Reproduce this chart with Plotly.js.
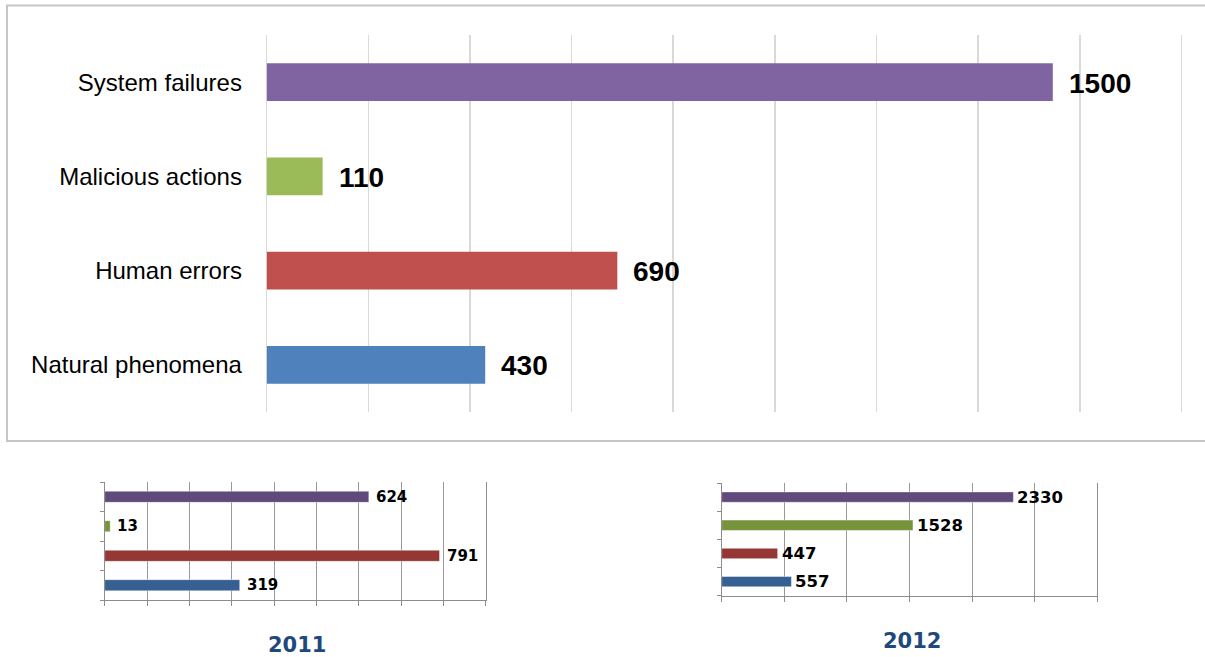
<!DOCTYPE html>
<html>
<head>
<meta charset="utf-8">
<script src="https://cdn.plot.ly/plotly-3.0.1.min.js"></script>
<style>
html,body{margin:0;padding:0;background:#fff;}
#chart{width:1205px;height:657px;}
</style>
</head>
<body>
<div id="chart"></div>
<script>
// Categories (bottom to top)
const categories = ["Natural phenomena", "Human errors", "Malicious actions", "System failures"];
// Main chart: bar lengths as drawn, and the printed data labels
const totalValues = [430, 690, 110, 1547];
const totalLabels = ["430", "690", "110", "1500"];
// 2011 panel
const values2011 = [319, 791, 13, 624];
// 2012 panel
const values2012 = [557, 447, 1528, 2330];
const panelTitles = ["2011", "2012"];

const mainColors = ["#4f81bd", "#c0504d", "#9bbb59", "#8064a2"];
const darkColors = ["#376092", "#953735", "#77933c", "#604a7b"];

const W = 1205, H = 657;
const px = x => x / W;
const py = y => 1 - y / H;

const traces = [
  {type: "bar", orientation: "h", y: categories, x: totalValues, xaxis: "x", yaxis: "y",
   width: 0.4, marker: {color: mainColors}, hoverinfo: "skip"},
  {type: "bar", orientation: "h", y: categories, x: values2011, xaxis: "x2", yaxis: "y2",
   width: 0.38, marker: {color: darkColors, line: {color: "rgba(255,255,255,0.45)", width: 1}}, hoverinfo: "skip"},
  {type: "bar", orientation: "h", y: categories, x: values2012, xaxis: "x3", yaxis: "y3",
   width: 0.37, marker: {color: darkColors, line: {color: "rgba(255,255,255,0.45)", width: 1}}, hoverinfo: "skip"}
];

const annotations = [];
categories.forEach((c, i) => {
  annotations.push({xref: "x", yref: "y", x: totalValues[i], y: c, text: totalLabels[i],
    showarrow: false, xanchor: "left", yanchor: "middle", xshift: 14, yshift: -1,
    font: {family: "Liberation Sans", size: 28, color: "#000", weight: 700}});
  annotations.push({xref: "x2", yref: "y2", x: values2011[i], y: c, text: String(values2011[i]),
    showarrow: false, xanchor: "left", yanchor: "middle", xshift: 5,
    font: {family: "DejaVu Sans", size: 15, color: "#000", weight: 700}});
  annotations.push({xref: "x3", yref: "y3", x: values2012[i], y: c, text: String(values2012[i]),
    showarrow: false, xanchor: "left", yanchor: "middle", xshift: 2,
    font: {family: "DejaVu Sans", size: 16.5, color: "#000", weight: 700}});
});
annotations.push({xref: "paper", yref: "paper", x: px(297), y: py(645), text: panelTitles[0],
  showarrow: false, xanchor: "center", yanchor: "middle",
  font: {family: "DejaVu Sans", size: 21, color: "#1f497d", weight: 700}});
annotations.push({xref: "paper", yref: "paper", x: px(912), y: py(641), text: panelTitles[1],
  showarrow: false, xanchor: "center", yanchor: "middle",
  font: {family: "DejaVu Sans", size: 21, color: "#1f497d", weight: 700}});

const smallX = (dom, range, dtick, anchor) => ({
  domain: dom, range: range, dtick: dtick, tick0: 0, anchor: anchor,
  showgrid: true, gridcolor: "#999999", gridwidth: 1,
  showline: true, linecolor: "#8c8c8c", linewidth: 1,
  ticks: "outside", ticklen: 5, tickcolor: "#8c8c8c", tickwidth: 1,
  showticklabels: false, zeroline: false, fixedrange: true
});
const smallY = (dom, anchor) => ({
  domain: dom, anchor: anchor, type: "category", range: [-0.5, 3.5],
  showline: true, mirror: true, linecolor: "#8c8c8c", linewidth: 1,
  ticks: "outside", tickson: "boundaries", ticklen: 4, tickcolor: "#8c8c8c",
  showticklabels: false, showgrid: false, zeroline: false, fixedrange: true
});

const layout = {
  width: W, height: H,
  margin: {l: 0, r: 0, t: 0, b: 0, pad: 0},
  paper_bgcolor: "#fff", plot_bgcolor: "rgba(0,0,0,0)",
  showlegend: false,
  xaxis: {domain: [px(266.7), px(1182.4)], range: [0, 1802], dtick: 200, tick0: 0, anchor: "y",
    showgrid: true, gridcolor: "#d9d9d9", gridwidth: 1.5,
    zeroline: true, zerolinecolor: "#d9d9d9", zerolinewidth: 1.5,
    showticklabels: false, showline: false, ticks: "", fixedrange: true},
  yaxis: {domain: [py(412), py(35)], anchor: "x", type: "category", range: [-0.5, 3.5],
    showgrid: false, zeroline: false, showline: false,
    ticks: "outside", ticklen: 19, tickcolor: "rgba(0,0,0,0)",
    tickfont: {family: "Liberation Sans", size: 24, color: "#000"}, fixedrange: true},
  xaxis2: smallX([px(104.7), px(485.7)], [0, 900], 100, "y2"),
  yaxis2: smallY([py(600), py(482)], "x2"),
  xaxis3: smallX([px(721.7), px(1097.3)], [0, 3000], 500, "y3"),
  yaxis3: smallY([py(595.7), py(483)], "x3"),
  shapes: [
    {type: "rect", xref: "paper", yref: "paper", x0: px(7), x1: px(1215), y0: py(441), y1: py(5.5),
     line: {color: "#c6c6c6", width: 2}, fillcolor: "rgba(0,0,0,0)", layer: "below"}
  ],
  annotations: annotations
};

Plotly.newPlot("chart", traces, layout, {displayModeBar: false, staticPlot: true});
</script>
</body>
</html>
